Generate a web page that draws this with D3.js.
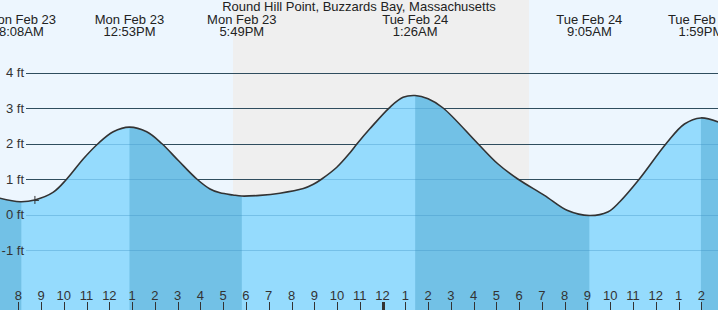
<!DOCTYPE html>
<html>
<head>
<meta charset="utf-8">
<script src="https://cdn.jsdelivr.net/npm/d3@7"></script>
<style>
  body { margin: 0; background: #fff; }
  svg { display: block; font-family: "Liberation Sans", Arial, sans-serif; }
</style>
</head>
<body>
<div id="chart"></div>
<script>
// hours counted from Mon Feb 23 00:00
const times   = [7.0, 8.08, 8.73, 9.54, 10.13, 10.86, 11.51, 12.17, 12.88, 13.64, 14.30, 15.03, 15.84, 16.42, 16.86, 17.43, 17.82, 18.61, 19.49, 20.52, 20.96, 21.33, 21.99, 22.57, 22.89, 23.45, 24.32, 24.9, 25.43, 26.0, 26.66, 28.18, 29.06, 29.94, 31.11, 32.13, 33.08, 33.89, 34.42, 35.28, 36.46, 37.26, 37.98, 38.9];
const heights = [0.49, 0.36, 0.41, 0.63, 1.0, 1.57, 2.0, 2.33, 2.46, 2.33, 2.0, 1.52, 1.0, 0.72, 0.61, 0.55, 0.52, 0.54, 0.60, 0.73, 0.85, 1.0, 1.33, 1.74, 2.0, 2.42, 3.02, 3.30, 3.35, 3.26, 3.0, 2.0, 1.43, 1.0, 0.54, 0.11, -0.03, 0.07, 0.36, 1.0, 2.0, 2.55, 2.72, 2.57];

const extremaTimes = [8.133, 12.883, 17.817, 25.433, 33.083, 37.983];
const extremaDays  = ["Mon Feb 23", "Mon Feb 23", "Mon Feb 23", "Tue Feb 24", "Tue Feb 24", "Tue Feb 24"];
const extremaClock = ["8:08AM", "12:53PM", "5:49PM", "1:26AM", "9:05AM", "1:59PM"];

const sunset = 17.43, sunrise = 30.43;
const feetTicks = [4, 3, 2, 1, 0, -1];
const hourTicks = d3.range(8, 39);
const nowIndex = 2;

const width = 718, height = 310;

const svg = d3.select("#chart").append("svg")
    .attr("width", width)
    .attr("height", height);

const x = d3.scaleLinear().domain([8, 38]).range([18.3, 701.3]);
const y = d3.scaleLinear().domain([-1, 4]).range([250, 72.5]);
const t0 = x.invert(0), t1 = x.invert(width);

// day / night background
svg.append("rect").attr("width", width).attr("height", height).attr("fill", "#edf6fe");
svg.append("rect")
    .attr("x", x(sunset)).attr("y", 0)
    .attr("width", x(sunrise) - x(sunset)).attr("height", height)
    .attr("fill", "#efefef");

// grid lines under the water
svg.append("g").selectAll("line")
    .data(feetTicks).enter().append("line")
    .attr("x1", 26).attr("x2", width)
    .attr("y1", d => Math.round(y(d)) + 0.5).attr("y2", d => Math.round(y(d)) + 0.5)
    .attr("stroke", "#2a2a2a").attr("stroke-width", 1);

const pts = times.map((t, i) => [t, heights[i]]);
const curve = d3.curveCatmullRom.alpha(0.5);

const area = d3.area()
    .x(d => x(d[0]))
    .y0(height)
    .y1(d => y(d[1]))
    .curve(curve);

const line = d3.line()
    .x(d => x(d[0]))
    .y(d => y(d[1]))
    .curve(curve);

// falling tide segments (high -> low) get the darker blue
const bounds = [t0].concat(extremaTimes, [t1]);
const falling = [];
for (let i = 0; i < bounds.length - 1; i++) {
  if (i % 2 === 0) falling.push([bounds[i], bounds[i + 1]]);
}

const clip = svg.append("defs").append("clipPath").attr("id", "falling");
clip.selectAll("rect").data(falling).enter().append("rect")
    .attr("x", d => x(d[0])).attr("y", 0)
    .attr("width", d => x(d[1]) - x(d[0])).attr("height", height);

svg.append("path").datum(pts).attr("d", area).attr("fill", "#95dbfd");
svg.append("path").datum(pts).attr("d", area).attr("fill", "#72c1e6")
    .attr("clip-path", "url(#falling)");

// faint grid lines through the water
svg.append("g").selectAll("line")
    .data(feetTicks).enter().append("line")
    .attr("x1", 26).attr("x2", width)
    .attr("y1", d => Math.round(y(d)) + 0.5).attr("y2", d => Math.round(y(d)) + 0.5)
    .attr("stroke", "#3a8fbf").attr("stroke-opacity", 0.35);

svg.append("path").datum(pts).attr("d", line)
    .attr("fill", "none").attr("stroke", "#333").attr("stroke-width", 1.6);

// current time marker
const nx = x(times[nowIndex]), ny = y(heights[nowIndex]);
svg.append("path")
    .attr("d", `M${nx - 4},${ny + 0.5}h8M${nx},${ny - 4}v8`)
    .attr("stroke", "#333").attr("stroke-width", 1).attr("fill", "none");

// feet labels
svg.append("g").selectAll("text")
    .data(feetTicks).enter().append("text")
    .attr("x", 24).attr("y", d => y(d) + 4.5)
    .attr("text-anchor", "end")
    .attr("font-size", 13).attr("fill", "#333")
    .text(d => d + " ft");

// hour ticks along the bottom
const hours = svg.append("g");
hours.selectAll("line").data(hourTicks).enter().append("line")
    .attr("x1", d => Math.round(x(d)) + 0.5).attr("x2", d => Math.round(x(d)) + 0.5)
    .attr("y1", 302).attr("y2", height)
    .attr("stroke", "#333")
    .attr("stroke-width", d => d % 24 === 0 ? 3 : 1);
hours.selectAll("text").data(hourTicks).enter().append("text")
    .attr("x", d => x(d)).attr("y", 300)
    .attr("text-anchor", "middle")
    .attr("font-size", 13).attr("fill", "#333")
    .text(d => (d % 12 === 0 ? 12 : d % 12));

// title and high/low labels
svg.append("text")
    .attr("x", 359).attr("y", 11)
    .attr("text-anchor", "middle")
    .attr("font-size", 13).attr("fill", "#222")
    .text("Round Hill Point, Buzzards Bay, Massachusetts");

const tops = svg.append("g").selectAll("g")
    .data(extremaTimes).enter().append("g");
tops.append("text")
    .attr("x", d => x(d)).attr("y", 24)
    .attr("text-anchor", "middle").attr("font-size", 13).attr("fill", "#222")
    .text((d, i) => extremaDays[i]);
tops.append("text")
    .attr("x", d => x(d)).attr("y", 36)
    .attr("text-anchor", "middle").attr("font-size", 13).attr("fill", "#222")
    .text((d, i) => extremaClock[i]);
</script>
</body>
</html>
